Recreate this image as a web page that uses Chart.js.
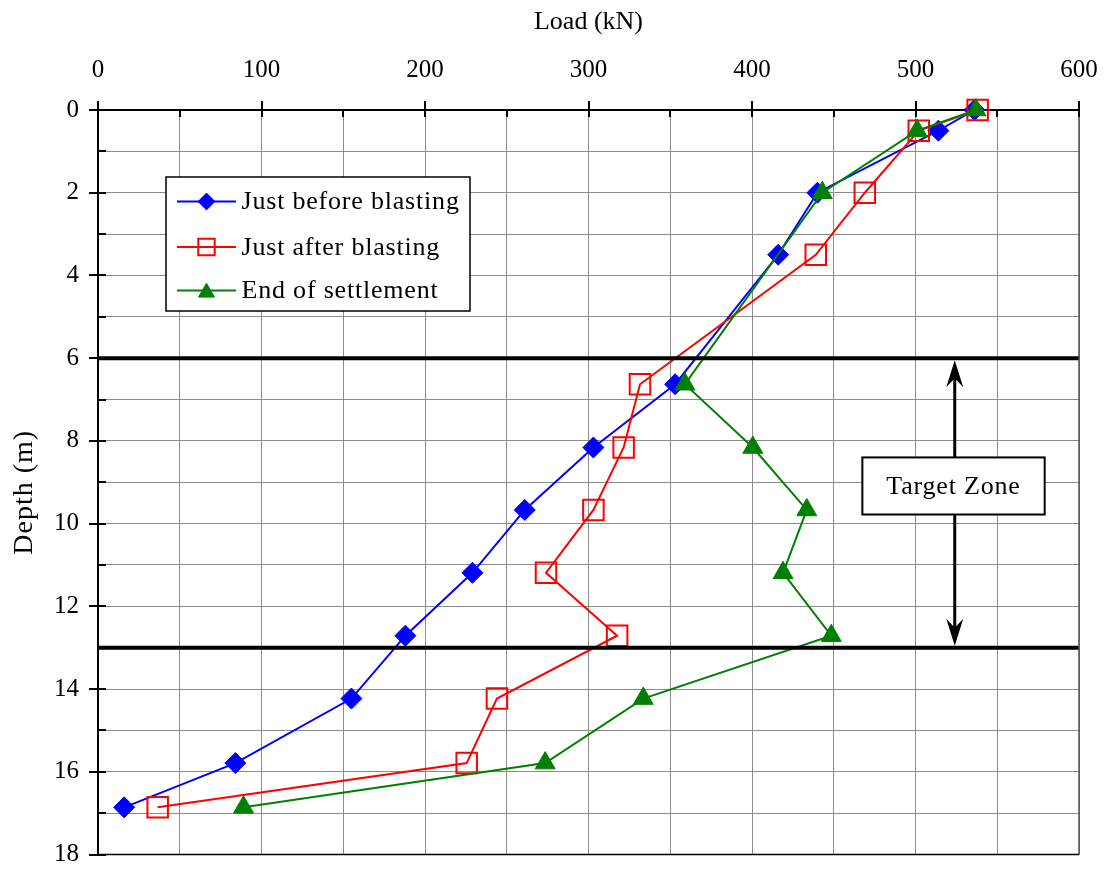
<!DOCTYPE html>
<html>
<head>
<meta charset="utf-8">
<title>Load distribution along the pile</title>
<script src="https://cdn.jsdelivr.net/npm/chart.js@4/dist/chart.umd.min.js"></script>
<style>
  html, body { margin: 0; padding: 0; background: #ffffff; }
  #wrap { width: 1107px; height: 871px; }
</style>
</head>
<body>
<div id="wrap"><canvas id="chart" width="1107" height="871"></canvas></div>
<script>
// Depths (m) at which the load was measured
const depths = [0, 0.5, 2, 3.5, 6.63, 8.16, 9.67, 11.19, 12.71, 14.23, 15.79, 16.86];
// Load (kN) just before blasting
const beforeLoads = [536, 514, 440, 416, 353, 303, 261, 229, 188, 155, 84, 16];
// Load (kN) just after blasting
const afterLoads = [538, 502, 469, 439, 331.5, 321.5, 303, 274, 317.5, 244, 225.5, 36.5];
// End of settlement: no reading at 3.5 m
const endDepths = [0, 0.5, 2, 6.63, 8.16, 9.67, 11.19, 12.71, 14.23, 15.79, 16.86];
const endLoads = [537, 501, 443, 359, 400.5, 433.5, 419, 448.5, 333.5, 273.5, 89];
// Limits of the target zone (m)
const zoneDepths = [6, 13];
// Axis ranges and labelled ticks
const loadTicks = [0, 100, 200, 300, 400, 500, 600];
const depthTicks = [0, 2, 4, 6, 8, 10, 12, 14, 16, 18];
const seriesNames = ['Just before blasting', 'Just after blasting', 'End of settlement'];
const xTitle = 'Load (kN)';
const yTitle = 'Depth (m)';
const zoneLabel = 'Target Zone';

const SERIF = '"Liberation Serif", "Times New Roman", Times, serif';
const GRID = '#8c8c8c';

const toPoints = (loads, ds) => loads.map((v, i) => ({ x: v, y: ds[i] }));

const seriesStyles = [
  { color: '#0000ff', pointStyle: 'rectRot', radius: 10.5, fill: '#0000ff', pbw: 1 },
  { color: '#ff0000', pointStyle: 'rect', radius: 14.5, fill: 'rgba(0,0,0,0)', pbw: 2 },
  { color: '#008000', pointStyle: 'triangle', radius: 11.5, fill: '#008000', pbw: 1 }
];

function seriesDataset(i, pts, order) {
  const s = seriesStyles[i];
  return {
    label: seriesNames[i],
    data: pts,
    showLine: true,
    borderColor: s.color,
    backgroundColor: s.fill,
    borderWidth: 2,
    pointStyle: s.pointStyle,
    pointRadius: s.radius,
    pointBorderColor: s.color,
    pointBackgroundColor: s.fill,
    pointBorderWidth: s.pbw,
    order: order,
    clip: false
  };
}

function zoneDataset(d) {
  return {
    label: 'zone ' + d,
    data: [{ x: loadTicks[0], y: d }, { x: loadTicks[loadTicks.length - 1], y: d }],
    showLine: true,
    borderColor: '#000000',
    borderWidth: 4,
    pointRadius: 0,
    order: 0,
    clip: false
  };
}

// Frame, tick marks, titles, legend and target-zone annotation
const decorations = {
  id: 'decorations',
  afterDatasetsDraw(chart) {
    const { ctx, chartArea: a, scales: { x, y } } = chart;
    ctx.save();

    // right and bottom edges of the plot
    ctx.strokeStyle = '#505050';
    ctx.lineWidth = 1.5;
    ctx.beginPath();
    ctx.moveTo(a.right, a.top);
    ctx.lineTo(a.right, a.bottom);
    ctx.stroke();
    ctx.strokeStyle = '#000000';
    ctx.beginPath();
    ctx.moveTo(a.left, a.bottom);
    ctx.lineTo(a.right, a.bottom);
    ctx.stroke();

    // tick marks: major ones cross the axis, minor ones point inward
    ctx.lineWidth = 2;
    ctx.beginPath();
    const xMin = loadTicks[0], xMax = loadTicks[loadTicks.length - 1];
    const xStep = loadTicks[1] - loadTicks[0];
    for (let v = xMin; v <= xMax; v += xStep / 2) {
      const px = Math.round(x.getPixelForValue(v));
      const major = loadTicks.includes(v);
      ctx.moveTo(px, major ? a.top - 9 : a.top);
      ctx.lineTo(px, a.top + 7);
    }
    const yMin = depthTicks[0], yMax = depthTicks[depthTicks.length - 1];
    const yStep = depthTicks[1] - depthTicks[0];
    for (let d = yMin; d <= yMax; d += yStep / 2) {
      const py = Math.round(y.getPixelForValue(d));
      const major = depthTicks.includes(d);
      ctx.moveTo(major ? a.left - 9 : a.left, py);
      ctx.lineTo(a.left + 8, py);
    }
    ctx.stroke();

    // axis titles
    ctx.fillStyle = '#000000';
    ctx.textAlign = 'center';
    ctx.textBaseline = 'middle';
    ctx.font = '26px ' + SERIF;
    ctx.fillText(xTitle, (a.left + a.right) / 2, 22);
    ctx.save();
    ctx.translate(25, (a.top + a.bottom) / 2 + 10);
    ctx.rotate(-Math.PI / 2);
    ctx.font = '28px ' + SERIF;
    try { ctx.letterSpacing = '1px'; } catch (e) {}
    ctx.fillText(yTitle, 0, 0);
    ctx.restore();

    // target zone: double arrow between the two zone limits
    const ax = x.getPixelForValue(524);
    const yTop = y.getPixelForValue(zoneDepths[0]) + 2;
    const yBot = y.getPixelForValue(zoneDepths[1]) - 2;
    ctx.strokeStyle = '#000000';
    ctx.fillStyle = '#000000';
    ctx.lineWidth = 3;
    ctx.beginPath();
    ctx.moveTo(ax, yTop + 15);
    ctx.lineTo(ax, yBot - 15);
    ctx.stroke();
    const head = (tipY, dir) => {
      ctx.beginPath();
      ctx.moveTo(ax, tipY);
      ctx.lineTo(ax - 8.5, tipY + dir * 27);
      ctx.lineTo(ax, tipY + dir * 18);
      ctx.lineTo(ax + 8.5, tipY + dir * 27);
      ctx.closePath();
      ctx.fill();
    };
    head(yTop, 1);
    head(yBot, -1);

    // target zone label box
    const bx0 = x.getPixelForValue(467.5), bx1 = x.getPixelForValue(579);
    const by0 = y.getPixelForValue(8.4), by1 = y.getPixelForValue(9.78);
    ctx.fillStyle = '#ffffff';
    ctx.fillRect(bx0, by0, bx1 - bx0, by1 - by0);
    ctx.lineWidth = 2;
    ctx.strokeRect(bx0, by0, bx1 - bx0, by1 - by0);
    ctx.fillStyle = '#000000';
    ctx.font = '26px ' + SERIF;
    try { ctx.letterSpacing = '0.8px'; } catch (e) {}
    ctx.fillText(zoneLabel, (bx0 + bx1) / 2, (by0 + by1) / 2 + 1);

    // legend
    const L = { x: 166, y: 177, w: 304, h: 134 };
    ctx.fillStyle = '#ffffff';
    ctx.fillRect(L.x, L.y, L.w, L.h);
    ctx.strokeStyle = '#000000';
    ctx.lineWidth = 1.5;
    ctx.strokeRect(L.x, L.y, L.w, L.h);
    const rows = [24.5, 70, 113.5];
    ctx.textAlign = 'left';
    rows.forEach((ry, i) => {
      const s = seriesStyles[i];
      const cy = L.y + ry;
      ctx.strokeStyle = s.color;
      ctx.lineWidth = 2;
      ctx.beginPath();
      ctx.moveTo(L.x + 11, cy);
      ctx.lineTo(L.x + 70, cy);
      ctx.stroke();
      // drawPoint paints with the current fill and stroke styles
      ctx.fillStyle = s.fill;
      ctx.strokeStyle = s.color;
      ctx.lineWidth = s.pbw;
      Chart.helpers.drawPoint(ctx, {
        pointStyle: s.pointStyle,
        radius: s.radius * 0.8,
        rotation: 0,
        borderWidth: s.pbw
      }, L.x + 40.5, cy + (s.pointStyle === 'triangle' ? 2 : 0));
      ctx.fillStyle = '#000000';
      ctx.fillText(seriesNames[i], L.x + 75.5, cy + 1);
    });
    ctx.restore();
  }
};

const chart = new Chart(document.getElementById('chart'), {
  type: 'scatter',
  data: {
    datasets: [
      seriesDataset(0, toPoints(beforeLoads, depths), 3),
      seriesDataset(1, toPoints(afterLoads, depths), 2),
      seriesDataset(2, toPoints(endLoads, endDepths), 1),
      zoneDataset(zoneDepths[0]),
      zoneDataset(zoneDepths[1])
    ]
  },
  options: {
    responsive: false,
    animation: false,
    devicePixelRatio: 1,
    events: [],
    layout: { padding: { top: 0, left: 0, right: 28, bottom: 14 } },
    plugins: { legend: { display: false }, tooltip: { enabled: false } },
    scales: {
      x: {
        type: 'linear',
        position: 'top',
        min: loadTicks[0],
        max: loadTicks[loadTicks.length - 1],
        afterFit(s) {
          s.height = 110;
          s.paddingLeft = 0;
          s.paddingRight = 0;
        },
        ticks: {
          stepSize: (loadTicks[1] - loadTicks[0]) / 2,
          autoSkip: false,
          maxRotation: 0,
          padding: 25,
          color: '#000000',
          font: { family: SERIF, size: 25 },
          callback: v => (loadTicks.includes(v) ? String(v) : '')
        },
        grid: { color: GRID, lineWidth: 1, drawTicks: false },
        border: { display: true, color: '#000000', width: 2 }
      },
      y: {
        type: 'linear',
        reverse: true,
        min: depthTicks[0],
        max: depthTicks[depthTicks.length - 1],
        afterFit(s) {
          s.width = 98;
          s.paddingTop = 0;
          s.paddingBottom = 0;
        },
        ticks: {
          stepSize: (depthTicks[1] - depthTicks[0]) / 2,
          autoSkip: false,
          padding: 19,
          color: '#000000',
          font: { family: SERIF, size: 25 },
          callback: v => (depthTicks.includes(v) ? String(v) : '')
        },
        grid: { color: GRID, lineWidth: 1, drawTicks: false },
        border: { display: true, color: '#000000', width: 2 }
      }
    }
  },
  plugins: [decorations]
});
</script>
</body>
</html>
